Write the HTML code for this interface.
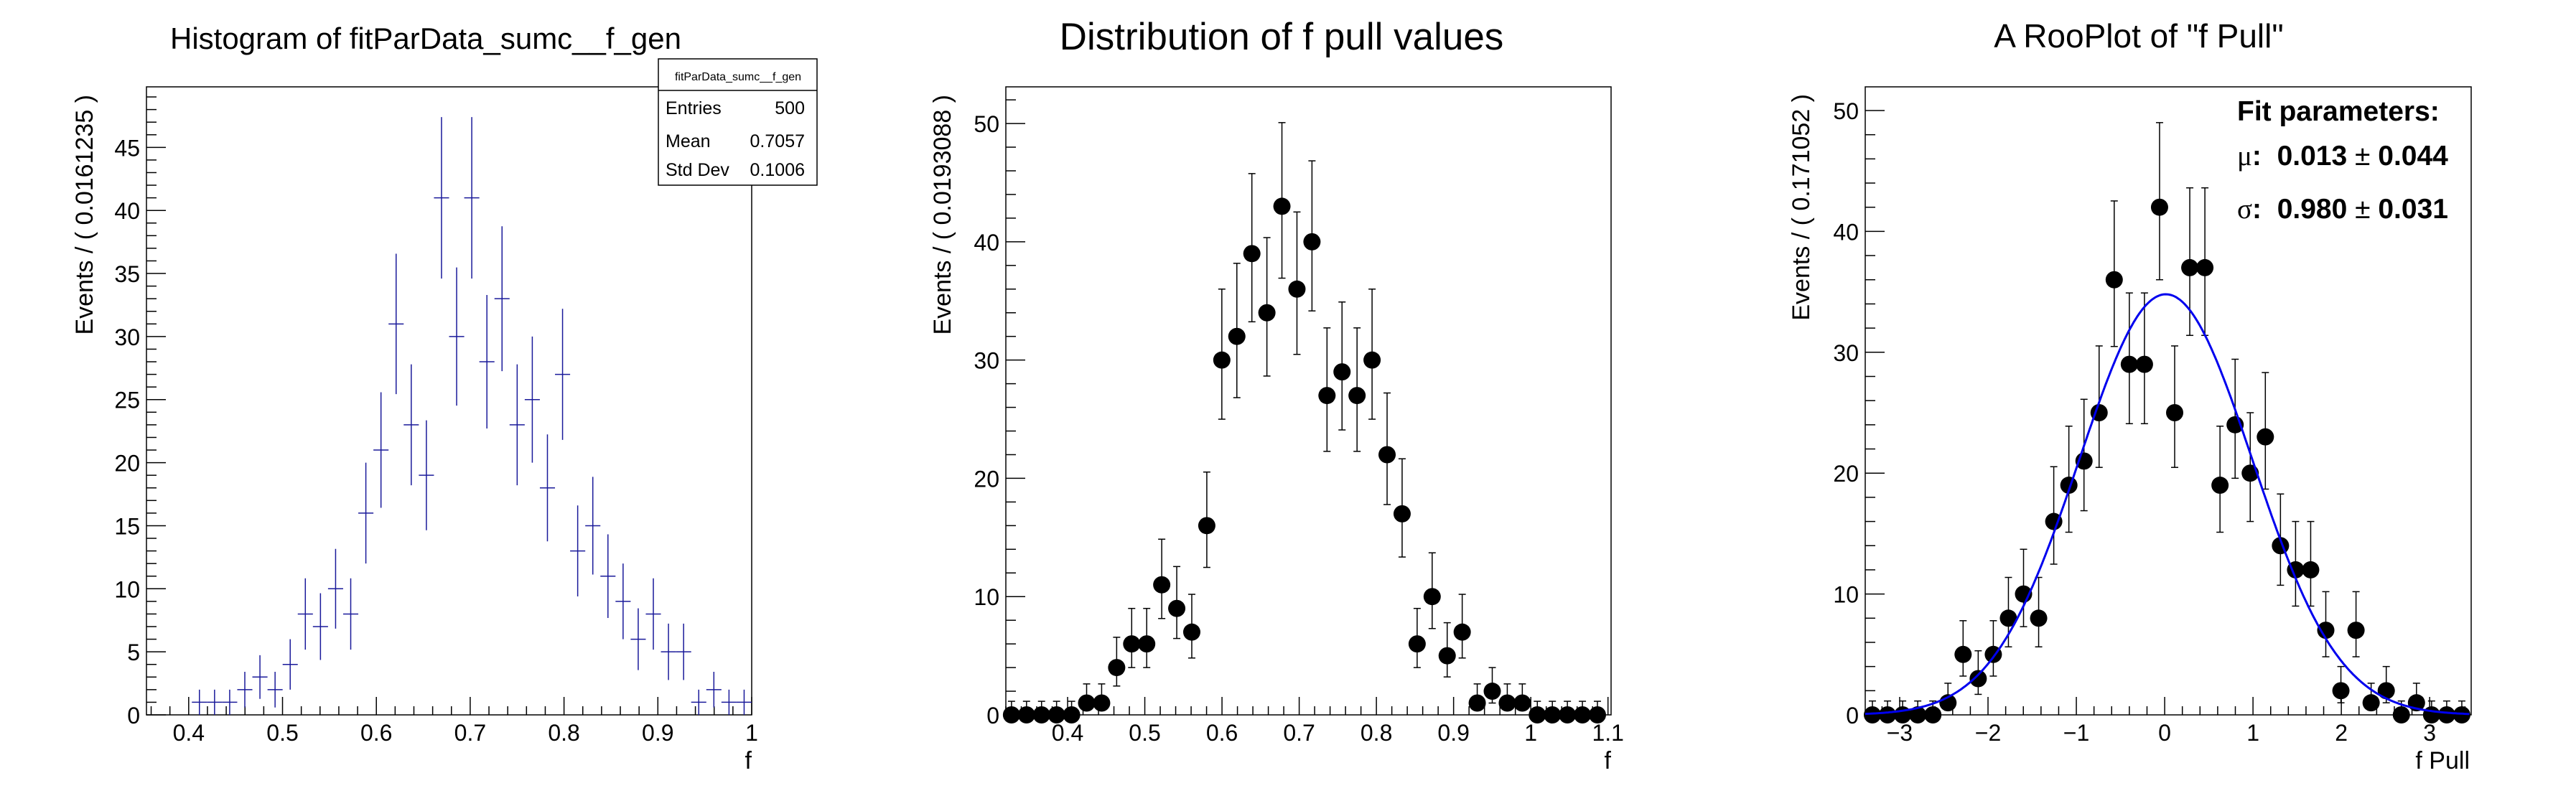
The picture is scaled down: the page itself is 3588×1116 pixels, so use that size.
<!DOCTYPE html>
<html><head><meta charset="utf-8"><style>
html,body{margin:0;padding:0;background:#fff}
svg{display:block}
text{font-family:"Liberation Sans",Arial,sans-serif;fill:#000}
.pre{white-space:pre}
</style></head><body>
<svg id="s" xmlns="http://www.w3.org/2000/svg" width="3588" height="1116" viewBox="0 0 3588 1116">
<rect width="3588" height="1116" fill="#fff"/>
<text x="593" y="68" font-size="42" text-anchor="middle">Histogram of fitParData_sumc__f_gen</text>
<text x="1785" y="69" font-size="53" text-anchor="middle">Distribution of f pull values</text>
<text x="2979" y="66" font-size="46" text-anchor="middle">A RooPlot of "f Pull"</text>
<text transform="translate(129,132) rotate(-90)" font-size="34" text-anchor="end">Events / ( 0.0161235 )</text>
<text transform="translate(1324,132) rotate(-90)" font-size="34" text-anchor="end">Events / ( 0.0193088 )</text>
<text transform="translate(2520,131) rotate(-90)" font-size="34" text-anchor="end">Events / ( 0.171052 )</text>
<text x="1047" y="1071" font-size="34" text-anchor="end">f</text>
<text x="2244" y="1071" font-size="34" text-anchor="end">f</text>
<text x="3440" y="1071" font-size="34" text-anchor="end">f Pull</text>
<g id="g"></g>
<rect x="917" y="82" width="221" height="176" fill="#fff" stroke="#000" stroke-width="1.5"/>
<line x1="917" y1="126" x2="1138" y2="126" stroke="#000" stroke-width="1.5"/>
<text x="1028" y="112" font-size="16" text-anchor="middle">fitParData_sumc__f_gen</text>
<text x="927" y="159" font-size="25">Entries</text><text x="1121" y="159" font-size="25" text-anchor="end">500</text>
<text x="927" y="205" font-size="25">Mean</text><text x="1121" y="205" font-size="25" text-anchor="end">0.7057</text>
<text x="927" y="245" font-size="25">Std Dev</text><text x="1121" y="245" font-size="25" text-anchor="end">0.1006</text>
<text x="3116" y="168" font-size="39" font-weight="bold">Fit parameters:</text>
<text class="pre" x="3116" y="230" font-size="39" font-weight="bold"><tspan font-weight="normal" font-family="Liberation Serif,serif">μ</tspan>:  0.013 <tspan font-weight="normal">±</tspan> 0.044</text>
<text class="pre" x="3116" y="304" font-size="39" font-weight="bold"><tspan font-weight="normal" font-family="Liberation Serif,serif">σ</tspan>:  0.980 <tspan font-weight="normal">±</tspan> 0.031</text>
</svg>
<script>
var G=document.getElementById('g'),h='';
function L(a,b,c,d,col,w){h+='<line x1="'+a+'" y1="'+b+'" x2="'+c+'" y2="'+d+'" stroke="'+(col||'#000')+'" stroke-width="'+(w||1.5)+'"/>';}
function T(x,y,s,anc){h+='<text x="'+x+'" y="'+y+'" font-size="32" text-anchor="'+anc+'">'+s+'</text>';}
function axes(P){
 var X=v=>P.l+(v-P.x0)/(P.x1-P.x0)*(P.r-P.l), Y=v=>P.b-(v-P.y0)/(P.y1-P.y0)*(P.b-P.t);
 h+='<rect x="'+P.l+'" y="'+P.t+'" width="'+(P.r-P.l)+'" height="'+(P.b-P.t)+'" fill="none" stroke="#000" stroke-width="1.5"/>';
 for(var v=P.y0;v<=P.y1+1e-9;v+=P.ym){var y=Y(v);var maj=Math.abs(v/P.yM-Math.round(v/P.yM))<1e-6;L(P.l,y,P.l+(maj?27:14),y);if(maj)T(P.l-9,y+12,Math.round(v),'end');}
 var s=Math.ceil((P.x0-1e-9)/P.xm);
 for(var k=s;k*P.xm<=P.x1+1e-9;k++){var v=k*P.xm,x=X(v);var maj=Math.abs(v/P.xM-Math.round(v/P.xM))<1e-6;L(x,P.b,x,P.b-(maj?25:12));if(maj){var r=Math.round(v/P.xM)*P.xM;T(x,1032,P.fmt(r),'middle');}}
 return [X,Y];
}
var P1={l:204,r:1047,t:121,b:996,x0:0.355,x1:1.0,y0:0,y1:49.8,ym:1,yM:5,xm:0.02,xM:0.1,fmt:v=>v==1?'1':v.toFixed(1)};
var f=axes(P1),X=f[0],Y=f[1];
var d1=[1,1,1,2,3,2,4,8,7,10,8,16,21,31,23,19,41,30,41,28,33,23,25,18,27,13,15,11,9,6,8,5,5,1,2,1,1];
var bw=0.645/40,c='#1a1a9a';
d1.forEach(function(n,i){var lo=0.355+(i+3)*bw,cx=0.355+(i+3.5)*bw;L(X(lo),Y(n),X(lo+bw),Y(n),c,1.5);var e=Math.sqrt(n);L(X(cx),Y(n-e),X(cx),Y(Math.min(n+e,49.8)),c,1.5);});
var P2={l:1401,r:2244,t:121,b:996,x0:0.32,x1:1.104,y0:0,y1:53.1,ym:2,yM:10,xm:0.02,xM:0.1,fmt:v=>v==1?'1':v.toFixed(1)};
f=axes(P2);X=f[0];Y=f[1];
function err(n){if(n==0)return[0,1.148];return[n+0.5-Math.sqrt(n+0.25),n+0.5+Math.sqrt(n+0.25)];}
function pts(d,x0,dx,Yf,cap){d.forEach(function(n,i){var x=x0+i*dx,e=err(n);L(x,Yf(e[0]),x,Yf(e[1]));L(x-cap,Yf(e[1]),x+cap,Yf(e[1]));L(x-cap,Yf(e[0]),x+cap,Yf(e[0]));h+='<circle cx="'+x+'" cy="'+Yf(n)+'" r="12" fill="#000"/>';});}
var d2=[0,0,0,0,0,1,1,4,6,6,11,9,7,16,30,32,39,34,43,36,40,27,29,27,30,22,17,6,10,5,7,1,2,1,1,0,0,0,0,0];
pts(d2,1200+273/1.307,27.35/1.307,Y,5);
var P3={l:2598,r:3442,t:121,b:996,x0:-3.39,x1:3.47,y0:0,y1:51.96,ym:2,yM:10,xm:0.2,xM:1,fmt:v=>v<0?'\u2212'+(-v):''+v};
f=axes(P3);X=f[0];Y=f[1];
var d3=[0,0,0,0,0,1,5,3,5,8,10,8,16,19,21,25,36,29,29,42,25,37,37,19,24,20,23,14,12,12,7,2,7,1,2,0,1,0,0,0];
pts(d3,2608,21.05,Y,5);
var p='';for(var v=-3.39;v<=3.47;v+=0.02){var g=34.8*Math.exp(-0.5*Math.pow((v-0.013)/0.98,2));p+=(p?'L':'M')+X(v).toFixed(1)+','+Y(g).toFixed(1);}
h+='<path d="'+p+'" fill="none" stroke="#0000ee" stroke-width="3"/>';
G.innerHTML=h;
</script>
</body></html>
